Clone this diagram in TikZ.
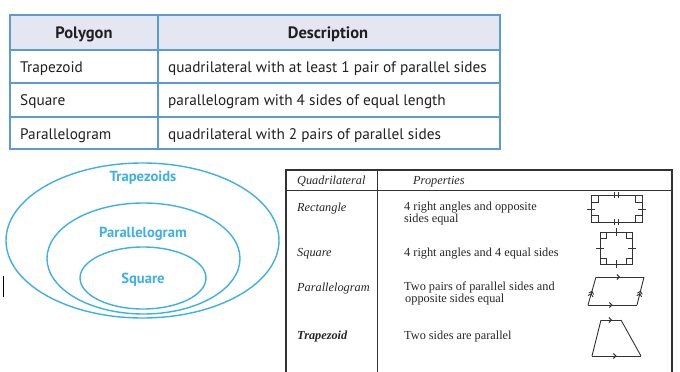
\documentclass[tikz,border=0pt]{standalone}
\usepackage{fontspec}
\setmainfont{Liberation Serif}
\newfontfamily\bookfont{PT Sans}
\usepackage{xcolor}
\usetikzlibrary{arrows.meta,decorations.markings}
\definecolor{tblline}{HTML}{5B9BD5}
\definecolor{tblhead}{HTML}{E4E6F2}
\definecolor{inktext}{HTML}{231F20}
\definecolor{venn}{HTML}{3DB0E6}
\definecolor{rulegray}{HTML}{333333}

\begin{document}
\begin{tikzpicture}[x=1pt,y=-1pt,every node/.style={inner sep=0pt},
    booktxt/.style={font=\bookfont\fontsize{15.3}{17}\selectfont,text=inktext,anchor=base west},
    bookhead/.style={font=\bookfont\bfseries\fontsize{16.5}{18}\selectfont,text=inktext,anchor=base},
    vennlbl/.style={font=\bookfont\bfseries\fontsize{14.6}{16}\selectfont,text=venn,anchor=base},
    proptxt/.style={font=\fontsize{12.3}{12}\selectfont,text=black!85,anchor=base west},
    propit/.style={proptxt,font=\itshape\fontsize{12.3}{12}\selectfont},
    shp/.style={rulegray,line width=0.9pt},
    midarr/.style={postaction={decorate},decoration={markings,
      mark=at position #1 with {\arrow{Straight Barb[length=2.5pt,width=5pt]}}}},
    midarrr/.style={postaction={decorate},decoration={markings,
      mark=at position #1 with {\arrow{Straight Barb[length=2.5pt,width=5pt]}},
      mark=at position #1+0.09 with {\arrow{Straight Barb[length=2.5pt,width=5pt]}}}}]
      \useasboundingbox (0,0) rectangle (680,372);
      % top table
      \fill[tblhead] (10,15) rectangle (500,50);
      \draw[tblline,line width=1.2pt] (10,50) -- (500,50) (10,83) -- (500,83)
        (10,117) -- (500,117) (158,15) -- (158,149);
      \draw[tblline,line width=2pt] (10,15) rectangle (500,149);
      \node[bookhead] (hpoly) at (84,38.5) {Polygon};
      \node[bookhead] (hdesc) at (328,38.5) {Description};
      \foreach \nm/\txt/\yy [count=\i] in {
        Trapezoid/quadrilateral with at least 1 pair of parallel sides/72.5,
        Square/parallelogram with 4 sides of equal length/105.5,
        Parallelogram/quadrilateral with 2 pairs of parallel sides/139} {
        \node[booktxt] (poly\i) at (20,\yy) {\nm};
        \node[booktxt] (desc\i) at (168,\yy) {\txt};
      }
      % nested ellipses
      \draw[venn,line width=1.4pt] (142.5,240.5) ellipse [x radius=136.5,y radius=77.5];
      \draw[venn,line width=1.4pt] (143.5,258.5) ellipse [x radius=96.5,y radius=55.5];
      \draw[venn,line width=1.4pt] (143,278) ellipse [x radius=63,y radius=31];
      \node[vennlbl] (vtrap) at (143,181.5) {Trapezoids};
      \node[vennlbl] (vpara) at (143,237) {Parallelogram};
      \node[vennlbl] (vsq) at (143,283.5) {Square};
      \draw[line width=1pt] (3,276) -- (3,297);
      % properties table
      \draw[rulegray,line width=1.2pt] (286,372) -- (286,170) -- (672,170) -- (672,372);
      \draw[rulegray,line width=1pt] (286,190) -- (672,190) (377,170) -- (377,372);
      \node[propit] (hquad) at (297,184) {Quadrilateral};
      \node[propit] (hprop) at (413,184) {Properties};
      \node[propit] (qrect) at (297,211) {Rectangle};
      \node[proptxt] (prect) at (404,210.5) {4 right angles and opposite};
      \node[proptxt] (prectb) at (404,222.5) {sides equal};
      \node[propit] (qsq) at (297,256) {Square};
      \node[proptxt] (psq) at (404,256) {4 right angles and 4 equal sides};
      \node[propit] (qpar) at (297,291) {Parallelogram};
      \node[proptxt] (ppar) at (404,290.5) {Two pairs of parallel sides and};
      \node[proptxt] (pparb) at (405,302.5) {opposite sides equal};
      \node[proptxt,font=\bfseries\itshape\fontsize{12.3}{12}\selectfont] (qtrap) at (297,339.5) {Trapezoid};
      \node[proptxt] (ptrap) at (404,339.5) {Two sides are parallel};
      % rectangle sketch
      \draw[shp] (591,195) rectangle (642,222);
      \foreach \cx/\cy/\dx/\dy in {591/195/1/1,642/195/-1/1,591/222/1/-1,642/222/-1/-1}
        \draw[shp] ({\cx+7*\dx},\cy) -- ({\cx+7*\dx},{\cy+7*\dy}) -- (\cx,{\cy+7*\dy});
      \draw[shp] (614.5,192) -- (614.5,198) (618,192) -- (618,198)
        (614.5,219) -- (614.5,225) (618,219) -- (618,225)
        (587,209) -- (595,209) (638,209) -- (646,209);
      % square sketch
      \draw[shp] (600,232) rectangle (632,264);
      \foreach \cx/\cy/\dx/\dy in {600/232/1/1,632/232/-1/1,600/264/1/-1,632/264/-1/-1}
        \draw[shp] ({\cx+6*\dx},\cy) -- ({\cx+6*\dx},{\cy+6*\dy}) -- (\cx,{\cy+6*\dy});
      \draw[shp] (616,228) -- (616,236) (616,260) -- (616,268)
        (596,248) -- (604,248) (628,248) -- (636,248);
      % parallelogram sketch
      \draw[shp,midarr=0.5] (596,277) -- (644,277);
      \draw[shp,midarrr=0.42] (637,305) -- (644,277);
      \draw[shp,midarr=0.5] (588,305) -- (637,305);
      \draw[shp,midarrr=0.42] (588,305) -- (596,277);
      % trapezoid sketch
      \draw[shp,midarr=0.55] (601,320) -- (621,320);
      \draw[shp] (621,320) -- (641,356);
      \draw[shp,midarr=0.5] (592,356) -- (641,356);
      \draw[shp] (592,356) -- (601,320);
    \end{tikzpicture}
\end{document}
